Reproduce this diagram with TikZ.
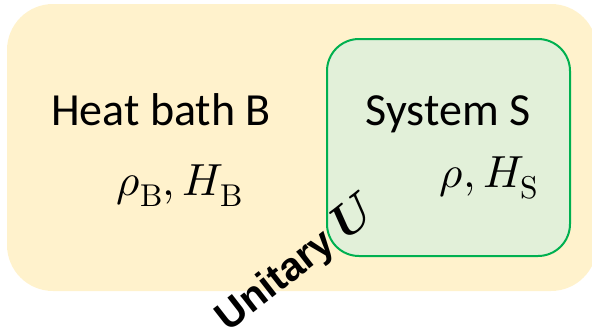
\documentclass[tikz,border=0pt]{standalone}
\usepackage{fontspec}
\usepackage{unicode-math}
\setmainfont{Carlito}
\setmathfont{Latin Modern Math}
\newfontfamily\arialfont{Liberation Sans}
\definecolor{bathfill}{HTML}{FFF2CC}
\definecolor{sysfill}{HTML}{E2F0D9}
\definecolor{sysdraw}{HTML}{00B050}
\begin{document}
\begin{tikzpicture}[x=1pt,y=-1pt,
  bigtext/.style={font=\fontsize{46}{50}\selectfont, inner sep=0pt, anchor=base},
  mathtext/.style={font=\fontsize{45}{50}\selectfont, inner sep=0pt, anchor=base},
  labeltext/.style={font=\arialfont\bfseries\fontsize{40}{44}\selectfont, inner sep=0pt}]
\useasboundingbox (0,0) rectangle (592,330);
\begin{scope}
\clip (0,0) rectangle (592,330);
\fill[bathfill, rounded corners=46pt] (7,4) rectangle (597,291);
\end{scope}
\filldraw[fill=sysfill, draw=sysdraw, line width=2pt, rounded corners=32pt] (327,39) rectangle (570,256);
\node[bigtext] (bath) at (161,125) {Heat bath B};
\node[mathtext] (bathstate) at (180,195) {$\rho_{\symup{B}}, H_{\symup{B}}$};
\node[bigtext] (sys) at (448,125) {System S};
\node[mathtext] (sysstate) at (489,187) {$\rho, H_{\symup{S}}$};
\node[labeltext, rotate=38] (unitary) at (297,264) {Unitary {\fontsize{47}{50}\selectfont$\symbfit{U}$}};
\end{tikzpicture}
\end{document}
